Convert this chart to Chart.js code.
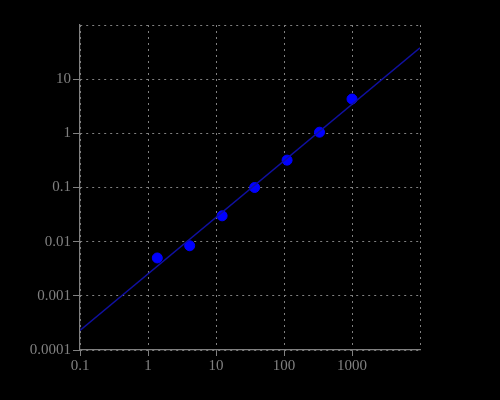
<!DOCTYPE html>
<html>
<head>
<meta charset="utf-8">
<script src="https://cdn.jsdelivr.net/npm/chart.js@4"></script>
<style>
  html, body { margin: 0; padding: 0; background: #000; }
  #wrap { width: 500px; height: 400px; }
</style>
</head>
<body>
<div id="wrap"><canvas id="fitChart" width="500" height="400"></canvas></div>
<script>
// measured points
const xValues = [1.37, 4.1, 12.3, 37, 111, 333, 1000];
const yValues = [0.005, 0.0084, 0.030, 0.10, 0.32, 1.05, 4.3];

// fitted power-law line (end points)
const fitX = [0.1, 10000];
const fitY = [0.00023, 38];

// tick labels
const xTicks = [0.1, 1, 10, 100, 1000, 10000];
const yTicks = [0.0001, 0.001, 0.01, 0.1, 1, 10, 100];

const grey = '#808080';

function pairs(xs, ys) {
  return xs.map((x, i) => ({ x: x, y: ys[i] }));
}

function fmt(v) {
  return String(+v.toPrecision(6));
}

const ctx = document.getElementById('fitChart').getContext('2d');

const fitChart = new Chart(ctx, {
  type: 'scatter',
  data: {
    datasets: [{
      type: 'line',
      data: pairs(fitX, fitY),
      borderColor: '#1010a0',
      borderWidth: 1.5,
      pointRadius: 0,
      fill: false
    }, {
      data: pairs(xValues, yValues),
      backgroundColor: '#0000ff',
      borderColor: '#0000ff',
      pointRadius: 5,
      pointHoverRadius: 5
    }]
  },
  plugins: [{
    id: 'blackBg',
    beforeDraw(chart) {
      const c = chart.ctx;
      c.save();
      c.fillStyle = '#000';
      c.fillRect(0, 0, chart.width, chart.height);
      c.restore();
    }
  }],
  options: {
    responsive: false,
    animation: false,
    layout: { padding: { top: 25, right: 80, bottom: 0, left: 0 } },
    plugins: {
      legend: { display: false },
      tooltip: { enabled: false }
    },
    scales: {
      x: {
        type: 'logarithmic',
        min: 0.1,
        max: 10000,
        afterBuildTicks: axis => { axis.ticks = xTicks.map(v => ({ value: v })); },
        afterFit: axis => { axis.height = 50; },
        border: { display: true, color: grey, width: 1.2, dash: [2, 4] },
        grid: {
          color: grey,
          lineWidth: 1,
          tickLength: 6,
          tickBorderDash: [],
          tickColor: c => (c.tick && c.tick.value === 10000) ? 'rgba(0,0,0,0)' : grey
        },
        ticks: {
          color: grey,
          font: { family: 'Liberation Serif', size: 15 },
          padding: 1,
          maxRotation: 0,
          autoSkip: false,
          callback: v => v === 10000 ? '' : fmt(v)
        }
      },
      y: {
        type: 'logarithmic',
        min: 0.0001,
        max: 100,
        afterBuildTicks: axis => { axis.ticks = yTicks.map(v => ({ value: v })); },
        afterFit: axis => { axis.width = 80; },
        border: { display: true, color: grey, width: 1.2, dash: [2, 4] },
        grid: {
          color: grey,
          lineWidth: 1,
          tickLength: 7,
          tickBorderDash: [],
          tickColor: c => (c.tick && c.tick.value === 100) ? 'rgba(0,0,0,0)' : grey
        },
        ticks: {
          color: grey,
          font: { family: 'Liberation Serif', size: 15 },
          padding: 2,
          autoSkip: false,
          callback: v => v === 100 ? '' : fmt(v)
        }
      }
    }
  }
});
</script>
</body>
</html>
